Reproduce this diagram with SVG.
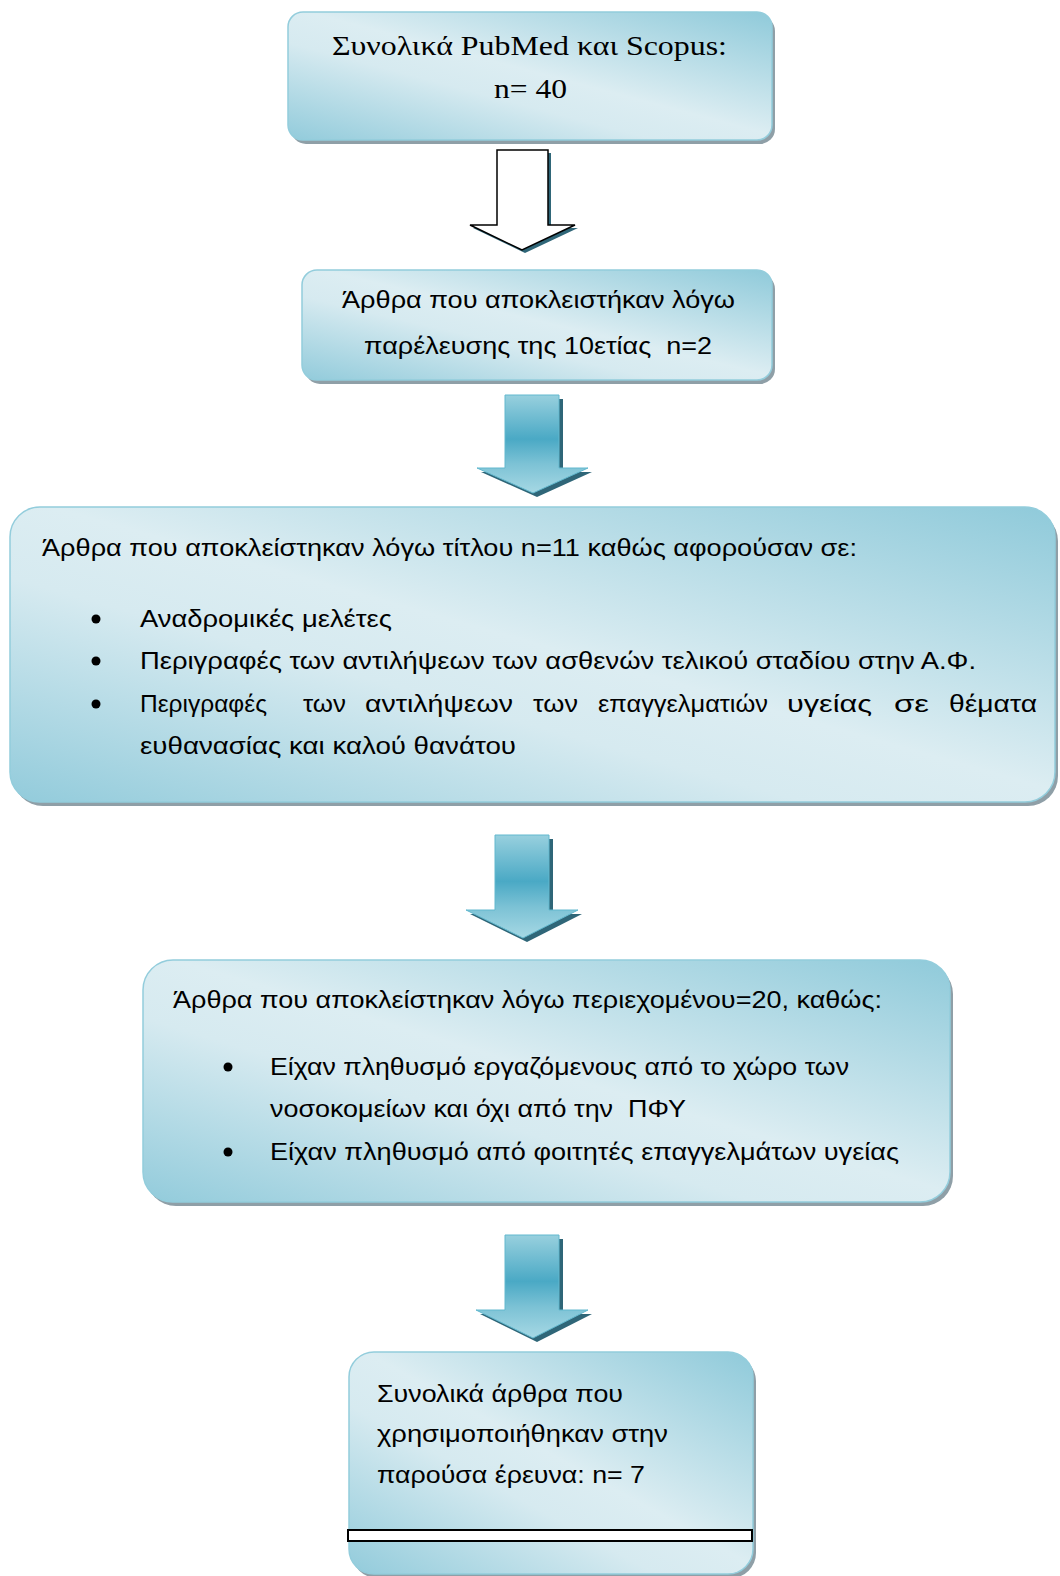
<svg xmlns="http://www.w3.org/2000/svg" width="1060" height="1576" viewBox="0 0 1060 1576">
  <defs>
    <linearGradient id="boxGrad" x1="1" y1="0" x2="0" y2="1">
      <stop offset="0" stop-color="#8fcada"/>
      <stop offset="0.48" stop-color="#dcedf2"/>
      <stop offset="0.62" stop-color="#d6eaf0"/>
      <stop offset="1" stop-color="#92cbdb"/>
    </linearGradient>
    <linearGradient id="arrowGrad" x1="0" y1="0" x2="0" y2="1">
      <stop offset="0" stop-color="#98d0de"/>
      <stop offset="0.45" stop-color="#4aa9c5"/>
      <stop offset="0.7" stop-color="#7cc2d5"/>
      <stop offset="1" stop-color="#a6d8e4"/>
    </linearGradient>
    <style>
      .shadow { fill: #8f9fa7; }
      .box { fill: url(#boxGrad); stroke: #93cddc; stroke-width: 1.5; }
      .ashadow { fill: #2f6678; }
      .arrow { fill: url(#arrowGrad); stroke: #62b8ce; stroke-width: 1; }
      .warrow { fill: #ffffff; stroke: #000000; stroke-width: 1.5; }
      .serif { font-family: "Liberation Serif", "Times New Roman", serif; font-size: 27px; fill: #000; }
      .sans { font-family: "Liberation Sans", Arial, sans-serif; font-size: 23px; fill: #000; }
      .cond { font-family: "Liberation Sans", Arial, sans-serif; font-size: 24px; fill: #000; }
      .bullet { fill: #000; }
    </style>
  </defs>
  <rect width="1060" height="1576" fill="#ffffff"/>

  <g id="connectors">
    <g id="arrow-1">
      <path class="ashadow" d="M500,153 H551 V228 H578 L525,253 L473,228 H500 Z"/>
      <path class="warrow" d="M497,150 H548 V225 H575 L522,250 L470,225 H497 Z"/>
    </g>
    <g id="arrow-2">
      <path class="ashadow" d="M509,399 H563 V472 H592 L537,497 L481,472 H509 Z"/>
      <path class="arrow" d="M505,395 H559 V468 H588 L533,493 L477,468 H505 Z"/>
    </g>
    <g id="arrow-3">
      <path class="ashadow" d="M499,839 H553 V914 H582 L527,942 L470,914 H499 Z"/>
      <path class="arrow" d="M495,835 H549 V910 H578 L523,938 L466,910 H495 Z"/>
    </g>
    <g id="arrow-4">
      <path class="ashadow" d="M509,1239 H563 V1314 H592 L537,1342 L480,1314 H509 Z"/>
      <path class="arrow" d="M505,1235 H559 V1310 H588 L533,1338 L476,1310 H505 Z"/>
    </g>
  </g>

  <g id="node-1">
    <rect class="shadow" x="291" y="16" width="484" height="128" rx="15"/>
    <rect class="box" x="288" y="12" width="484" height="128" rx="15"/>
    <text class="serif" x="332" y="55" textLength="395" lengthAdjust="spacingAndGlyphs">Συνολικά PubMed και Scopus:</text>
    <text class="serif" x="494" y="98" textLength="73" lengthAdjust="spacingAndGlyphs">n= 40</text>
  </g>

  <g id="node-2">
    <rect class="shadow" x="305" y="274" width="470" height="110" rx="15"/>
    <rect class="box" x="302" y="270" width="470" height="110" rx="15"/>
    <text class="sans" x="342" y="308" textLength="393" lengthAdjust="spacingAndGlyphs">Άρθρα που αποκλειστήκαν λόγω</text>
    <text class="sans" x="364" y="354" textLength="348" lengthAdjust="spacingAndGlyphs" xml:space="preserve">παρέλευσης της 10ετίας  n=2</text>
  </g>

  <g id="node-3">
    <rect class="shadow" x="13" y="511" width="1045" height="295" rx="30"/>
    <rect class="box" x="10" y="507" width="1045" height="295" rx="30"/>
    <text class="sans" x="42" y="556" textLength="815" lengthAdjust="spacingAndGlyphs">Άρθρα που αποκλείστηκαν λόγω τίτλου n=11 καθώς αφορούσαν σε:</text>
    <circle class="bullet" cx="96" cy="619" r="4.5"/>
    <text class="sans" x="140" y="627" textLength="252" lengthAdjust="spacingAndGlyphs">Αναδρομικές μελέτες</text>
    <circle class="bullet" cx="96" cy="661" r="4.5"/>
    <text class="sans" x="140" y="669" textLength="836" lengthAdjust="spacingAndGlyphs">Περιγραφές των αντιλήψεων των ασθενών τελικού σταδίου στην Α.Φ.</text>
    <circle class="bullet" cx="96" cy="704" r="4.5"/>
    <text class="sans" x="140" y="712" textLength="127" lengthAdjust="spacingAndGlyphs">Περιγραφές</text>
    <text class="sans" x="303" y="712" textLength="43" lengthAdjust="spacingAndGlyphs">των</text>
    <text class="sans" x="365" y="712" textLength="148" lengthAdjust="spacingAndGlyphs">αντιλήψεων</text>
    <text class="sans" x="533" y="712" textLength="45" lengthAdjust="spacingAndGlyphs">των</text>
    <text class="sans" x="598" y="712" textLength="170" lengthAdjust="spacingAndGlyphs">επαγγελματιών</text>
    <text class="sans" x="787" y="712" textLength="85" lengthAdjust="spacingAndGlyphs">υγείας</text>
    <text class="sans" x="894" y="712" textLength="35" lengthAdjust="spacingAndGlyphs">σε</text>
    <text class="sans" x="949" y="712" textLength="88" lengthAdjust="spacingAndGlyphs">θέματα</text>
    <text class="sans" x="140" y="754" textLength="376" lengthAdjust="spacingAndGlyphs">ευθανασίας και καλού θανάτου</text>
  </g>

  <g id="node-4">
    <rect class="shadow" x="146" y="964" width="807" height="242" rx="30"/>
    <rect class="box" x="143" y="960" width="807" height="242" rx="30"/>
    <text class="cond" x="173" y="1008" textLength="709" lengthAdjust="spacingAndGlyphs">Άρθρα που αποκλείστηκαν λόγω περιεχομένου=20, καθώς:</text>
    <circle class="bullet" cx="228" cy="1067" r="4.5"/>
    <text class="cond" x="270" y="1075" textLength="579" lengthAdjust="spacingAndGlyphs">Είχαν πληθυσμό εργαζόμενους από το χώρο των</text>
    <text class="cond" x="270" y="1117" textLength="416" lengthAdjust="spacingAndGlyphs" xml:space="preserve">νοσοκομείων και όχι από την  ΠΦΥ</text>
    <circle class="bullet" cx="228" cy="1152" r="4.5"/>
    <text class="cond" x="270" y="1160" textLength="629" lengthAdjust="spacingAndGlyphs">Είχαν πληθυσμό από φοιτητές επαγγελμάτων υγείας</text>
  </g>

  <g id="node-5">
    <rect class="shadow" x="352" y="1356" width="404" height="222" rx="25"/>
    <rect class="box" x="349" y="1352" width="404" height="222" rx="25"/>
    <text class="sans" x="377" y="1402" textLength="246" lengthAdjust="spacingAndGlyphs">Συνολικά άρθρα που</text>
    <text class="sans" x="377" y="1442" textLength="291" lengthAdjust="spacingAndGlyphs">χρησιμοποιήθηκαν στην</text>
    <text class="sans" x="377" y="1483" textLength="268" lengthAdjust="spacingAndGlyphs">παρούσα έρευνα: n= 7</text>
    <rect x="348" y="1530" width="404" height="11" fill="#ffffff" stroke="#000000" stroke-width="2"/>
  </g>
</svg>
